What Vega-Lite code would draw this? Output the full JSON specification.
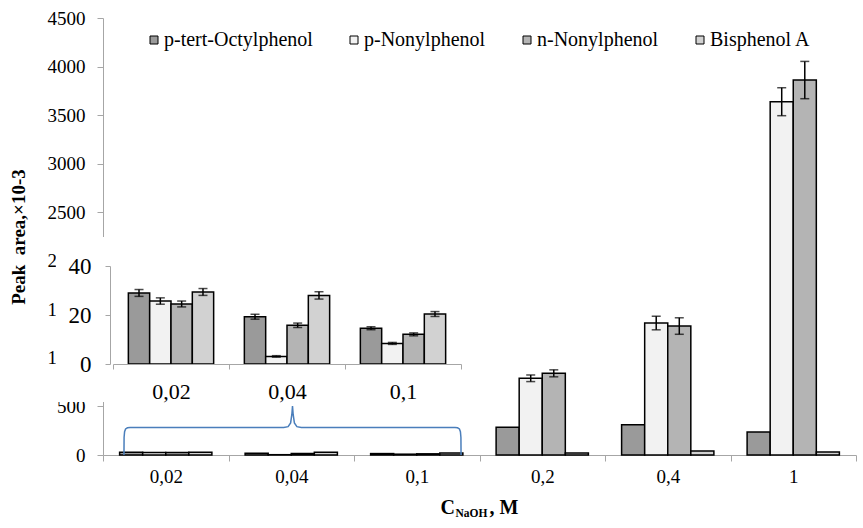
{
  "$schema": "https://vega.github.io/schema/vega-lite/v6.json",
  "width": 753,
  "height": 437,
  "autosize": {"type": "none"},
  "padding": {"left": 103, "top": 18, "right": 7, "bottom": 73},
  "background": "white",
  "config": {
    "view": {"stroke": null},
    "font": "Liberation Serif",
    "axis": {"labelFont": "Liberation Serif", "titleFont": "Liberation Serif", "labelColor": "black", "titleColor": "black", "grid": false}
  },
  "data": {
    "values": [
      {"c": "0,02", "s": "p-tert-Octylphenol", "v": 29.0, "lo": 27.6, "hi": 30.4},
      {"c": "0,02", "s": "p-Nonylphenol", "v": 25.7, "lo": 24.4, "hi": 27.0},
      {"c": "0,02", "s": "n-Nonylphenol", "v": 24.5, "lo": 23.3, "hi": 25.7},
      {"c": "0,02", "s": "Bisphenol A", "v": 29.4, "lo": 28.0, "hi": 30.8},
      {"c": "0,04", "s": "p-tert-Octylphenol", "v": 19.3, "lo": 18.3, "hi": 20.3},
      {"c": "0,04", "s": "p-Nonylphenol", "v": 3.1, "lo": 2.8, "hi": 3.4},
      {"c": "0,04", "s": "n-Nonylphenol", "v": 15.8, "lo": 14.9, "hi": 16.7},
      {"c": "0,04", "s": "Bisphenol A", "v": 28.0, "lo": 26.5, "hi": 29.5},
      {"c": "0,1", "s": "p-tert-Octylphenol", "v": 14.6, "lo": 14.0, "hi": 15.2},
      {"c": "0,1", "s": "p-Nonylphenol", "v": 8.4, "lo": 8.0, "hi": 8.8},
      {"c": "0,1", "s": "n-Nonylphenol", "v": 12.1, "lo": 11.5, "hi": 12.7},
      {"c": "0,1", "s": "Bisphenol A", "v": 20.4, "lo": 19.4, "hi": 21.4},
      {"c": "0,2", "s": "p-tert-Octylphenol", "v": 285, "lo": null, "hi": null},
      {"c": "0,2", "s": "p-Nonylphenol", "v": 790, "lo": 756, "hi": 824},
      {"c": "0,2", "s": "n-Nonylphenol", "v": 841, "lo": 805, "hi": 877},
      {"c": "0,2", "s": "Bisphenol A", "v": 20, "lo": null, "hi": null},
      {"c": "0,4", "s": "p-tert-Octylphenol", "v": 312, "lo": null, "hi": null},
      {"c": "0,4", "s": "p-Nonylphenol", "v": 1359, "lo": 1289, "hi": 1429},
      {"c": "0,4", "s": "n-Nonylphenol", "v": 1328, "lo": 1243, "hi": 1413},
      {"c": "0,4", "s": "Bisphenol A", "v": 40, "lo": null, "hi": null},
      {"c": "1", "s": "p-tert-Octylphenol", "v": 237, "lo": null, "hi": null},
      {"c": "1", "s": "p-Nonylphenol", "v": 3638, "lo": 3494, "hi": 3782},
      {"c": "1", "s": "n-Nonylphenol", "v": 3861, "lo": 3669, "hi": 4053},
      {"c": "1", "s": "Bisphenol A", "v": 30, "lo": null, "hi": null}
    ]
  },
  "layer": [
    {
      "encoding": {
        "x": {
          "field": "c", "type": "nominal", "sort": null,
          "scale": {"domain": ["0,02", "0,04", "0,1", "0,2", "0,4", "1"], "paddingInner": 0, "paddingOuter": 0},
          "axis": {
            "orient": "bottom", "tickBand": "extent", "domainColor": "#a6a6a6", "tickColor": "#a6a6a6",
            "tickSize": 6, "labelPadding": 6, "labelFontSize": 19, "labelAngle": 0, "labelFont": "Liberation Serif",
            "title": "C", "titleFont": "Liberation Serif", "titleFontSize": 20, "titleFontWeight": "bold", "titleAlign": "left",
            "titleBaseline": "alphabetic", "titleX": 337, "titleY": 58
          }
        },
        "xOffset": {
          "field": "s", "type": "nominal", "sort": null,
          "scale": {"domain": ["p-tert-Octylphenol", "p-Nonylphenol", "n-Nonylphenol", "Bisphenol A"], "paddingInner": 0, "paddingOuter": 0.72}
        }
      },
      "layer": [
        {
          "mark": {"type": "bar", "stroke": "black", "strokeWidth": 1.5},
          "encoding": {
            "y": {
              "field": "v", "type": "quantitative", "title": "Peak\u00a0 area,×10-3",
              "scale": {"domain": [0, 4500], "nice": false},
              "axis": {
                "orient": "left", "values": [0, 500, 1000, 1500, 2000, 2500, 3000, 3500, 4000, 4500], "format": "d",
                "domainColor": "#a6a6a6", "tickColor": "#a6a6a6", "tickSize": 6, "labelPadding": 12, "labelFont": "Liberation Serif",
                "labelFontSize": 19, "titleFont": "Liberation Serif", "titleFontSize": 19, "titleFontWeight": "bold", "titlePadding": 19
              }
            },
            "fill": {
              "field": "s", "type": "nominal", "sort": null,
              "scale": {
                "domain": ["p-tert-Octylphenol", "p-Nonylphenol", "n-Nonylphenol", "Bisphenol A"],
                "range": ["#9a9a9a", "#f2f2f2", "#b4b4b4", "#d2d2d2"]
              },
              "legend": {
                "orient": "none", "legendX": 41, "legendY": 12, "direction": "horizontal", "title": null,
                "symbolType": "square", "symbolSize": 64, "symbolStrokeColor": "black", "symbolStrokeWidth": 1,
                "labelFont": "Liberation Serif", "labelFontSize": 20, "labelColor": "black",
                "columnPadding": 31, "labelOffset": 0, "labelLimit": 300
              }
            }
          }
        },
        {
          "transform": [{"filter": "datum.lo != null && datum.v > 100"}],
          "mark": {"type": "rule", "color": "black", "strokeWidth": 1.5},
          "encoding": {
            "y": {
              "field": "lo", "type": "quantitative", "title": "Peak\u00a0 area,×10-3",
              "scale": {"domain": [0, 4500], "nice": false},
              "axis": {
                "orient": "left", "values": [0, 500, 1000, 1500, 2000, 2500, 3000, 3500, 4000, 4500], "format": "d",
                "domainColor": "#a6a6a6", "tickColor": "#a6a6a6", "tickSize": 6, "labelPadding": 12, "labelFont": "Liberation Serif",
                "labelFontSize": 19, "titleFont": "Liberation Serif", "titleFontSize": 19, "titleFontWeight": "bold", "titlePadding": 19
              }
            },
            "y2": {"field": "hi"}
          }
        },
        {
          "transform": [{"filter": "datum.lo != null && datum.v > 100"}],
          "mark": {"type": "tick", "orient": "horizontal", "color": "black", "size": 9, "thickness": 1.5},
          "encoding": {
            "y": {
              "field": "lo", "type": "quantitative", "title": "Peak\u00a0 area,×10-3",
              "scale": {"domain": [0, 4500], "nice": false},
              "axis": {
                "orient": "left", "values": [0, 500, 1000, 1500, 2000, 2500, 3000, 3500, 4000, 4500], "format": "d",
                "domainColor": "#a6a6a6", "tickColor": "#a6a6a6", "tickSize": 6, "labelPadding": 12, "labelFont": "Liberation Serif",
                "labelFontSize": 19, "titleFont": "Liberation Serif", "titleFontSize": 19, "titleFontWeight": "bold", "titlePadding": 19
              }
            }
          }
        },
        {
          "transform": [{"filter": "datum.lo != null && datum.v > 100"}],
          "mark": {"type": "tick", "orient": "horizontal", "color": "black", "size": 9, "thickness": 1.5},
          "encoding": {
            "y": {
              "field": "hi", "type": "quantitative", "title": "Peak\u00a0 area,×10-3",
              "scale": {"domain": [0, 4500], "nice": false},
              "axis": {
                "orient": "left", "values": [0, 500, 1000, 1500, 2000, 2500, 3000, 3500, 4000, 4500], "format": "d",
                "domainColor": "#a6a6a6", "tickColor": "#a6a6a6", "tickSize": 6, "labelPadding": 12, "labelFont": "Liberation Serif",
                "labelFontSize": 19, "titleFont": "Liberation Serif", "titleFontSize": 19, "titleFontWeight": "bold", "titlePadding": 19
              }
            }
          }
        }
      ]
    },
    {
      "data": {
        "values": [
          {"i": 0, "bx": 0.167, "by": 0},
          {"i": 1, "bx": 0.168, "by": 180},
          {"i": 2, "bx": 0.172, "by": 240},
          {"i": 3, "bx": 0.18, "by": 268},
          {"i": 4, "bx": 0.195, "by": 280},
          {"i": 5, "bx": 0.215, "by": 284},
          {"i": 6, "bx": 1.44, "by": 284},
          {"i": 7, "bx": 1.475, "by": 292},
          {"i": 8, "bx": 1.495, "by": 330},
          {"i": 9, "bx": 1.505, "by": 420},
          {"i": 10, "bx": 1.51, "by": 505},
          {"i": 11, "bx": 1.515, "by": 420},
          {"i": 12, "bx": 1.525, "by": 330},
          {"i": 13, "bx": 1.545, "by": 292},
          {"i": 14, "bx": 1.58, "by": 284},
          {"i": 15, "bx": 2.805, "by": 284},
          {"i": 16, "bx": 2.825, "by": 280},
          {"i": 17, "bx": 2.84, "by": 268},
          {"i": 18, "bx": 2.848, "by": 240},
          {"i": 19, "bx": 2.852, "by": 180},
          {"i": 20, "bx": 2.853, "by": 0}
        ]
      },
      "encoding": {
        "x": {
          "field": "bx", "type": "quantitative", "scale": {"domain": [0, 6], "nice": false, "zero": false},
          "axis": {
            "orient": "bottom", "domain": false, "ticks": false, "labels": false, "grid": false,
            "title": "NaOH", "titleFont": "Liberation Serif", "titleFontSize": 11.5, "titleFontWeight": "bold", "titleAlign": "left",
            "titleBaseline": "alphabetic", "titleX": 352, "titleY": 61
          }
        },
        "y": {
          "field": "by", "type": "quantitative", "scale": {"domain": [0, 4500], "nice": false},
          "axis": {
            "orient": "left", "domain": false, "ticks": false, "labels": false, "grid": false,
            "title": ", M", "titleFont": "Liberation Serif", "titleAngle": 0, "titleFontSize": 20, "titleFontWeight": "bold", "titleAlign": "left",
            "titleBaseline": "alphabetic", "titleX": 386, "titleY": 495
          }
        }
      },
      "layer": [
        {
          "data": {"values": [{"bx": -0.375, "bx2": 2.92, "by": 546, "by2": 2245}]},
          "mark": {"type": "rect", "fill": "white", "strokeWidth": 0},
          "encoding": {
            "x2": {"field": "bx2"},
            "y2": {"field": "by2"}
          }
        },
        {
          "mark": {"type": "line", "color": "#4a7ebb", "strokeWidth": 1.5, "interpolate": "linear"},
          "encoding": {
            "order": {"field": "i", "type": "quantitative"}
          }
        }
      ]
    },
    {
      "transform": [{"filter": {"field": "c", "oneOf": ["0,02", "0,04", "0,1"]}}],
      "encoding": {
        "x": {
          "field": "c", "type": "nominal", "sort": null,
          "scale": {"domain": ["0,02", "0,04", "0,1"], "range": [10, 358], "paddingInner": 0, "paddingOuter": 0},
          "axis": {
            "orient": "bottom", "offset": -91, "tickBand": "extent", "domainColor": "#a6a6a6", "tickColor": "#a6a6a6",
            "tickSize": 5, "labelPadding": 12, "labelFontSize": 22, "labelAngle": 0, "labelFont": "Liberation Serif", "title": null, "zindex": 1
          }
        },
        "xOffset": {
          "field": "s", "type": "nominal", "sort": null,
          "scale": {"domain": ["p-tert-Octylphenol", "p-Nonylphenol", "n-Nonylphenol", "Bisphenol A"], "paddingInner": 0, "paddingOuter": 0.72}
        },
        "y": {
          "field": "v", "type": "quantitative", "title": null,
          "scale": {"domain": [0, 40], "nice": false, "range": [346, 248]},
          "axis": {
            "orient": "left", "offset": -7, "values": [0, 20, 40], "domainColor": "#a6a6a6", "tickColor": "#a6a6a6",
            "tickSize": 5, "labelPadding": 14, "labelFontSize": 23, "labelFont": "Liberation Serif", "title": null, "zindex": 1
          }
        }
      },
      "layer": [
        {
          "mark": {"type": "bar", "stroke": "black", "strokeWidth": 1.5},
          "encoding": {
            "fill": {"field": "s", "type": "nominal", "sort": null}
          }
        },
        {
          "mark": {"type": "rule", "color": "black", "strokeWidth": 1.5},
          "encoding": {
            "y": {
              "field": "lo", "type": "quantitative", "title": null,
              "scale": {"domain": [0, 40], "nice": false, "range": [346, 248]},
              "axis": {
                "orient": "left", "offset": -7, "values": [0, 20, 40], "domainColor": "#a6a6a6", "tickColor": "#a6a6a6",
                "tickSize": 5, "labelPadding": 14, "labelFontSize": 23, "labelFont": "Liberation Serif", "title": null, "zindex": 1
              }
            },
            "y2": {"field": "hi"}
          }
        },
        {
          "mark": {"type": "tick", "orient": "horizontal", "color": "black", "size": 9, "thickness": 1.5},
          "encoding": {
            "y": {
              "field": "lo", "type": "quantitative", "title": null,
              "scale": {"domain": [0, 40], "nice": false, "range": [346, 248]},
              "axis": {
                "orient": "left", "offset": -7, "values": [0, 20, 40], "domainColor": "#a6a6a6", "tickColor": "#a6a6a6",
                "tickSize": 5, "labelPadding": 14, "labelFontSize": 23, "labelFont": "Liberation Serif", "title": null, "zindex": 1
              }
            }
          }
        },
        {
          "mark": {"type": "tick", "orient": "horizontal", "color": "black", "size": 9, "thickness": 1.5},
          "encoding": {
            "y": {
              "field": "hi", "type": "quantitative", "title": null,
              "scale": {"domain": [0, 40], "nice": false, "range": [346, 248]},
              "axis": {
                "orient": "left", "offset": -7, "values": [0, 20, 40], "domainColor": "#a6a6a6", "tickColor": "#a6a6a6",
                "tickSize": 5, "labelPadding": 14, "labelFontSize": 23, "labelFont": "Liberation Serif", "title": null, "zindex": 1
              }
            }
          }
        }
      ]
    }
  ],
  "resolve": {"scale": {"x": "independent", "y": "independent", "xOffset": "independent"}}
}
